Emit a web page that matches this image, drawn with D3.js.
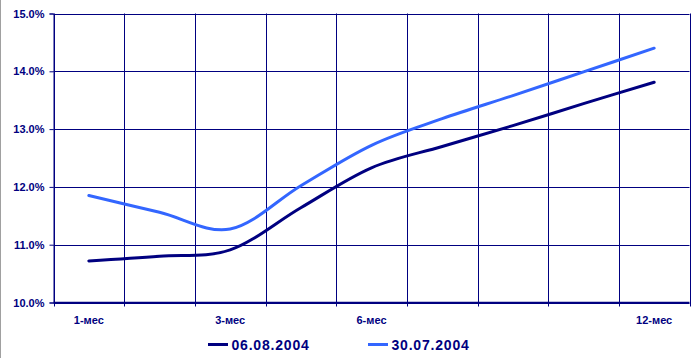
<!DOCTYPE html>
<html>
<head>
<meta charset="utf-8">
<script src="https://cdn.jsdelivr.net/npm/d3@7/dist/d3.min.js"></script>
<style>
  html, body { margin: 0; padding: 0; background: #fff; }
  svg { display: block; }
  text { font-family: "Liberation Sans", Arial, sans-serif; font-weight: bold; fill: #000080; }
</style>
</head>
<body>
<svg id="chart" width="696" height="358"></svg>
<script>
// Yield curve terms (category slots; only some are labelled)
const terms = ["1-мес", "2-мес", "3-мес", "4-мес", "6-мес", "7-мес", "9-мес", "10-мес", "12-мес"];
const termLabels = ["1-мес", "", "3-мес", "", "6-мес", "", "", "", "12-мес"];
const series1Name = "06.08.2004";
const series1 = [10.72, 10.80, 10.91, 11.64, 12.33, 12.70, 13.06, 13.44, 13.81];
const series2Name = "30.07.2004";
const series2 = [11.85, 11.56, 11.27, 12.02, 12.72, 13.18, 13.58, 13.99, 14.40];
const yTicks = [10, 11, 12, 13, 14, 15];

const svg = d3.select("#chart");
const plotL = 53.5, plotR = 689.5, plotT = 13.5, plotB = 302.5;
const navy = "#000080";

const x = d3.scaleBand().domain(terms).range([plotL, plotR]);
const y = d3.scaleLinear().domain([10, 15]).range([plotB, plotT]);

// thin frame on the far left of the canvas
svg.append("line").attr("x1", 0.5).attr("x2", 0.5).attr("y1", 0).attr("y2", 358)
  .attr("stroke", "#a0a0a0").attr("stroke-width", 1);

// horizontal grid
svg.append("g").selectAll("line").data(yTicks).join("line")
  .attr("x1", plotL).attr("x2", plotR)
  .attr("y1", d => Math.round(y(d)) + 0.5).attr("y2", d => Math.round(y(d)) + 0.5)
  .attr("stroke", navy).attr("stroke-width", 1);

// vertical grid at category boundaries
const bounds = terms.map(t => x(t)).concat([x(terms[terms.length - 1]) + x.bandwidth()]);
svg.append("g").selectAll("line").data(bounds).join("line")
  .attr("x1", d => Math.round(d) + 0.5).attr("x2", d => Math.round(d) + 0.5)
  .attr("y1", plotT).attr("y2", plotB + 4)
  .attr("stroke", navy).attr("stroke-width", 1);

// y axis ticks and labels
const yAxis = d3.axisLeft(y).tickValues(yTicks).tickSize(4).tickPadding(5)
  .tickFormat(d => d3.format(".1f")(d) + "%");
const gy = svg.append("g").attr("transform", `translate(${plotL},0)`).call(yAxis);
gy.select(".domain").attr("stroke", navy);
gy.selectAll(".tick line").attr("stroke", navy);
gy.selectAll(".tick text").style("font-size", "11px").attr("fill", navy);

// x axis line and category labels
svg.append("line").attr("x1", plotL).attr("x2", plotR).attr("y1", plotB).attr("y2", plotB)
  .attr("stroke", navy).attr("stroke-width", 1.5);
svg.append("g").selectAll("text").data(terms).join("text")
  .attr("x", d => x(d) + x.bandwidth() / 2)
  .attr("y", 323.5)
  .attr("text-anchor", "middle")
  .style("font-size", "11px")
  .text((d, i) => termLabels[i]);

// smoothed series lines
const line = d3.line()
  .x((d, i) => x(terms[i]) + x.bandwidth() / 2)
  .y(d => y(d))
  .curve(d3.curveCatmullRom.alpha(0));

svg.append("path").datum(series2).attr("d", line)
  .attr("fill", "none").attr("stroke", "#3366FF").attr("stroke-width", 3)
  .attr("stroke-linecap", "round");
svg.append("path").datum(series1).attr("d", line)
  .attr("fill", "none").attr("stroke", "#000080").attr("stroke-width", 3)
  .attr("stroke-linecap", "round");

// legend
const legend = [
  { name: series1Name, color: "#000080", x: 208 },
  { name: series2Name, color: "#3366FF", x: 368 }
];
const lg = svg.append("g").selectAll("g").data(legend).join("g")
  .attr("transform", d => `translate(${d.x},344.5)`);
lg.append("line").attr("x1", 0).attr("x2", 20).attr("y1", 0).attr("y2", 0)
  .attr("stroke", d => d.color).attr("stroke-width", 3);
lg.append("text").attr("x", 23.5).attr("y", 5.5)
  .style("font-size", "14px").style("letter-spacing", "0.8px").text(d => d.name);
</script>
</body>
</html>
